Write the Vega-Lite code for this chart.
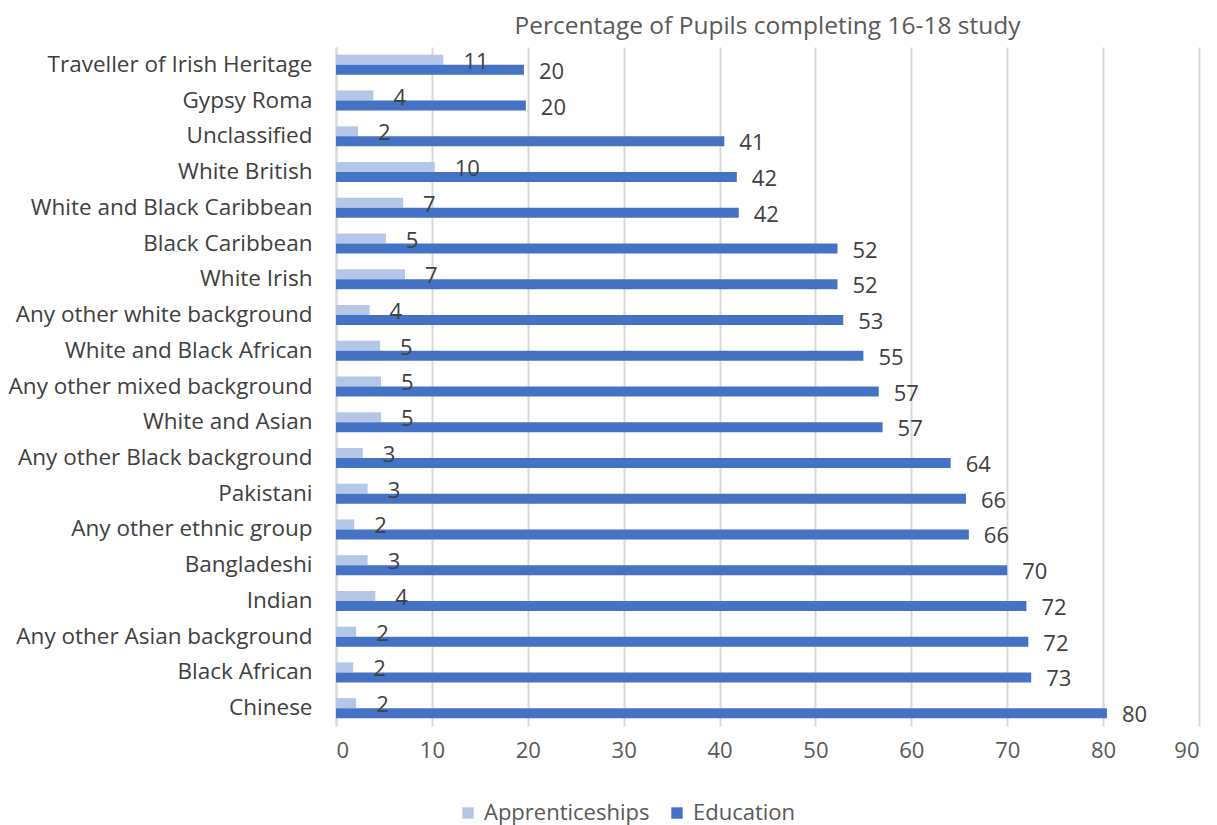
{
  "$schema": "https://vega.github.io/schema/vega-lite/v6.json",
  "autosize": "none",
  "width": 863,
  "height": 679,
  "padding": {"left": 336, "top": 47, "right": 18, "bottom": 99},
  "background": "white",
  "title": {
    "text": "Percentage of Pupils completing 16-18 study",
    "font": "Open Sans",
    "fontSize": 24.5,
    "fontWeight": "normal",
    "color": "#595959",
    "anchor": "middle",
    "offset": 8
  },
  "config": {
    "view": {"stroke": null},
    "font": "Open Sans"
  },
  "data": {
    "values": [
      {"group": "Traveller of Irish Heritage", "series": "Apprenticeships", "value": 11.2},
      {"group": "Traveller of Irish Heritage", "series": "Education", "value": 19.6},
      {"group": "Gypsy Roma", "series": "Apprenticeships", "value": 3.9},
      {"group": "Gypsy Roma", "series": "Education", "value": 19.8},
      {"group": "Unclassified", "series": "Apprenticeships", "value": 2.3},
      {"group": "Unclassified", "series": "Education", "value": 40.5},
      {"group": "White British", "series": "Apprenticeships", "value": 10.3},
      {"group": "White British", "series": "Education", "value": 41.8},
      {"group": "White and Black Caribbean", "series": "Apprenticeships", "value": 7.0},
      {"group": "White and Black Caribbean", "series": "Education", "value": 42.0},
      {"group": "Black Caribbean", "series": "Apprenticeships", "value": 5.2},
      {"group": "Black Caribbean", "series": "Education", "value": 52.3},
      {"group": "White Irish", "series": "Apprenticeships", "value": 7.2},
      {"group": "White Irish", "series": "Education", "value": 52.3},
      {"group": "Any other white background", "series": "Apprenticeships", "value": 3.5},
      {"group": "Any other white background", "series": "Education", "value": 52.9},
      {"group": "White and Black African", "series": "Apprenticeships", "value": 4.6},
      {"group": "White and Black African", "series": "Education", "value": 55.0},
      {"group": "Any other mixed background", "series": "Apprenticeships", "value": 4.7},
      {"group": "Any other mixed background", "series": "Education", "value": 56.6},
      {"group": "White and Asian", "series": "Apprenticeships", "value": 4.7},
      {"group": "White and Asian", "series": "Education", "value": 57.0},
      {"group": "Any other Black background", "series": "Apprenticeships", "value": 2.8},
      {"group": "Any other Black background", "series": "Education", "value": 64.1},
      {"group": "Pakistani", "series": "Apprenticeships", "value": 3.3},
      {"group": "Pakistani", "series": "Education", "value": 65.7},
      {"group": "Any other ethnic group", "series": "Apprenticeships", "value": 1.9},
      {"group": "Any other ethnic group", "series": "Education", "value": 66.0},
      {"group": "Bangladeshi", "series": "Apprenticeships", "value": 3.3},
      {"group": "Bangladeshi", "series": "Education", "value": 70.0},
      {"group": "Indian", "series": "Apprenticeships", "value": 4.1},
      {"group": "Indian", "series": "Education", "value": 72.0},
      {"group": "Any other Asian background", "series": "Apprenticeships", "value": 2.1},
      {"group": "Any other Asian background", "series": "Education", "value": 72.2},
      {"group": "Black African", "series": "Apprenticeships", "value": 1.8},
      {"group": "Black African", "series": "Education", "value": 72.5},
      {"group": "Chinese", "series": "Apprenticeships", "value": 2.1},
      {"group": "Chinese", "series": "Education", "value": 80.4}
    ]
  },
  "encoding": {
    "y": {
      "field": "group",
      "type": "nominal",
      "sort": null,
      "title": null,
      "scale": {"paddingInner": 0.44, "paddingOuter": 0.22},
      "axis": {
        "labelFont": "Open Sans",
        "labelFontSize": 22.5,
        "labelColor": "#404040",
        "labelPadding": 24,
        "ticks": false,
        "domain": true,
        "domainColor": "#d9d9d9",
        "domainWidth": 2,
        "grid": false,
        "labelLimit": 400
      }
    },
    "x": {
      "field": "value",
      "type": "quantitative",
      "title": null,
      "scale": {"domain": [0, 90], "nice": false},
      "axis": {
        "values": [0, 10, 20, 30, 40, 50, 60, 70, 80, 90],
        "labelFont": "Open Sans",
        "labelFontSize": 22,
        "labelColor": "#595959",
        "labelPadding": 14,
        "ticks": false,
        "domain": false,
        "grid": true,
        "gridColor": "#d9d9d9",
        "gridWidth": 2
      }
    },
    "yOffset": {
      "field": "series",
      "type": "nominal",
      "sort": ["Apprenticeships", "Education"]
    }
  },
  "layer": [
    {
      "mark": {"type": "bar"},
      "encoding": {
        "color": {
          "field": "series",
          "type": "nominal",
          "sort": ["Apprenticeships", "Education"],
          "scale": {"domain": ["Apprenticeships", "Education"], "range": ["#B4C7E7", "#4472C4"]},
          "legend": {
            "orient": "none",
            "direction": "horizontal",
            "legendX": 121,
            "legendY": 755,
            "title": null,
            "symbolType": "square",
            "symbolSize": 130,
            "symbolStrokeWidth": 0,
            "labelFont": "Open Sans",
            "labelFontSize": 22,
            "labelColor": "#595959",
            "labelOffset": 5,
            "columnPadding": 16,
            "labelLimit": 300
          }
        }
      }
    },
    {
      "transform": [{"filter": "datum.series == 'Apprenticeships'"}],
      "mark": {"type": "text", "align": "left", "baseline": "middle", "dx": 20, "dy": 2, "fontSize": 22, "color": "#404040", "font": "Open Sans"},
      "encoding": {"text": {"field": "value", "type": "quantitative", "format": ".0f"}}
    },
    {
      "transform": [{"filter": "datum.series == 'Education'"}],
      "mark": {"type": "text", "align": "left", "baseline": "middle", "dx": 15, "dy": 2, "fontSize": 22, "color": "#404040", "font": "Open Sans"},
      "encoding": {"text": {"field": "value", "type": "quantitative", "format": ".0f"}}
    }
  ]
}
